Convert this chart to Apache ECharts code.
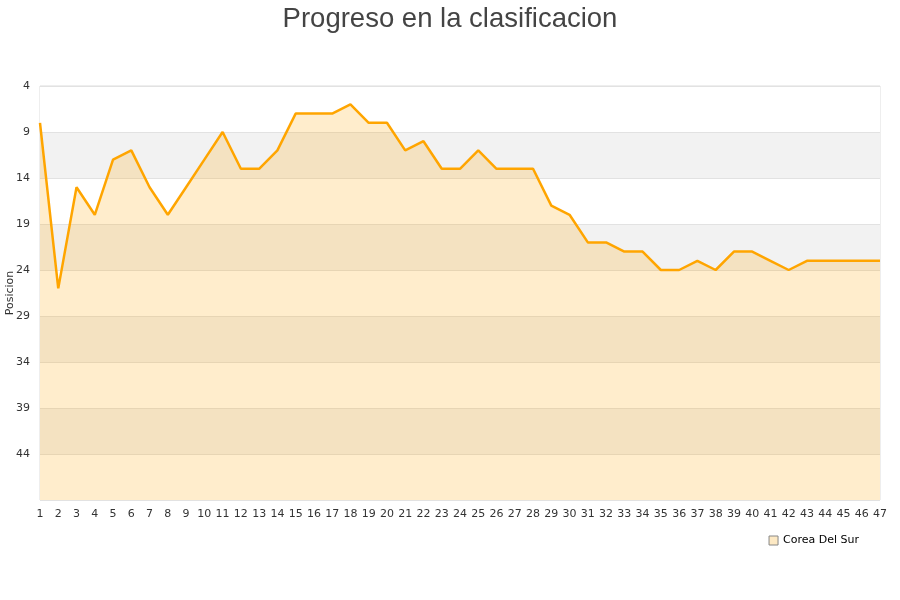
<!DOCTYPE html>
<html>
<head>
<meta charset="utf-8">
<script src="https://cdn.jsdelivr.net/npm/echarts@6/dist/echarts.min.js"></script>
<style>html,body{margin:0;padding:0;background:#fff}#c{width:900px;height:600px}</style>
</head>
<body>
<div id="c"></div>
<script>
const titleText = 'Progreso en la clasificacion';
const seriesName = 'Corea Del Sur';
const yAxisName = 'Posicion';
const jornadas = [];
for (let i = 1; i <= 47; i++) jornadas.push(String(i));
const posiciones = [8, 26, 15, 18, 12, 11, 15, 18, 15, 12,
  9, 13, 13, 11, 7, 7, 7, 6, 8, 8,
  11, 10, 13, 13, 11, 13, 13, 13, 17, 18,
  21, 21, 22, 22, 24, 24, 23, 24, 22, 22,
  23, 24, 23, 23, 23, 23, 23];

const chart = echarts.init(document.getElementById('c'));
chart.setOption({
  animation: false,
  backgroundColor: '#fff',
  title: {
    text: titleText,
    left: 'center',
    top: 0,
    textStyle: { fontFamily: 'Liberation Sans', fontSize: 27.5, fontWeight: 'normal', color: '#444' }
  },
  legend: {
    data: [seriesName],
    right: 36,
    top: 530,
    icon: 'rect',
    itemWidth: 9,
    itemHeight: 9,
    textStyle: { fontFamily: 'DejaVu Sans', fontSize: 11, color: '#000' },
    itemStyle: { color: '#fde9c4', borderColor: '#888', borderWidth: 1 }
  },
  grid: { left: 40, right: 20, top: 86, bottom: 100, containLabel: false, outerBoundsMode: 'none', show: true, borderColor: '#ddd', borderWidth: 1 },
  xAxis: {
    type: 'category',
    data: jornadas,
    boundaryGap: false,
    axisLine: { show: false },
    axisTick: { show: false },
    axisLabel: { fontFamily: 'DejaVu Sans', fontSize: 11, color: '#333', margin: 9, interval: 0 },
    splitLine: { show: false }
  },
  yAxis: {
    type: 'value',
    inverse: true,
    min: 4,
    max: 49,
    interval: 5,
    name: yAxisName,
    nameLocation: 'middle',
    nameGap: 24,
    nameMoveOverlap: false,
    nameTextStyle: { fontFamily: 'DejaVu Sans', fontSize: 11, color: '#333' },
    axisLine: { show: false },
    axisTick: { show: false },
    axisLabel: { fontFamily: 'DejaVu Sans', fontSize: 11, color: '#333', margin: 10, showMaxLabel: false },
    splitLine: { show: true, lineStyle: { color: '#e2e2e2', width: 1 } },
    splitArea: { show: true, areaStyle: { color: ['#ffffff', '#f2f2f2'], opacity: 1 } }
  },
  series: [{
    name: seriesName,
    type: 'line',
    data: posiciones,
    symbol: 'none',
    lineStyle: { color: '#ffa500', width: 2.5 },
    itemStyle: { color: '#ffa500' },
    areaStyle: { color: '#ffa500', opacity: 0.2, origin: 'end' }
  }]
});
</script>
</body>
</html>
